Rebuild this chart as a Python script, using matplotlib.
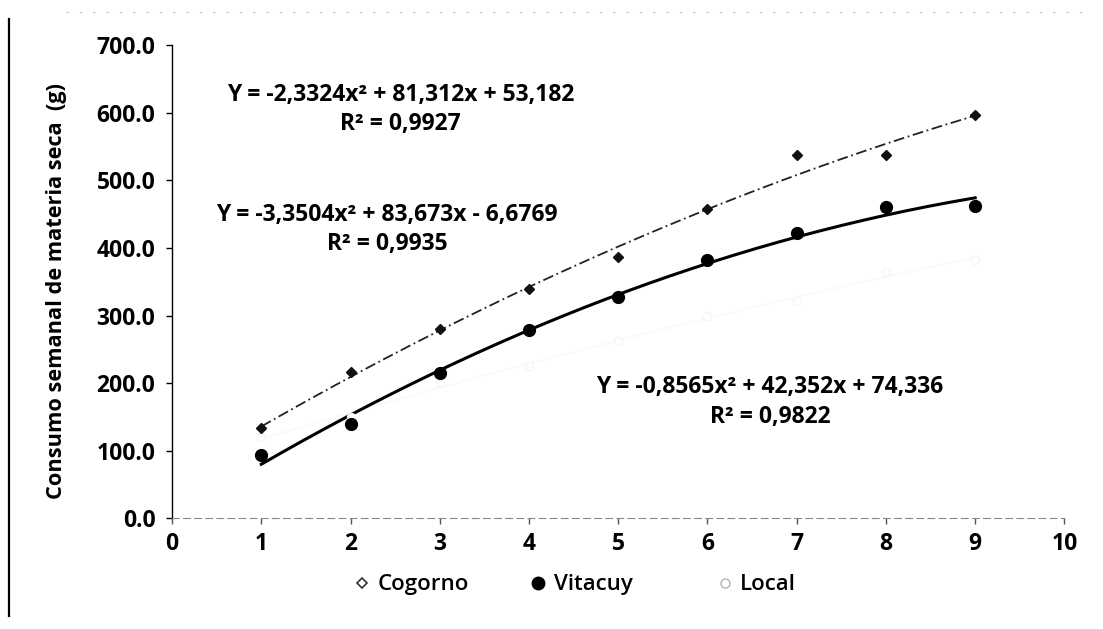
import numpy as np
import matplotlib
matplotlib.use("Agg")
import matplotlib.pyplot as plt
from matplotlib.lines import Line2D

plt.rcParams['font.family'] = ['Open Sans', 'DejaVu Sans']
plt.rcParams['font.weight'] = 'bold'

weeks = [1, 2, 3, 4, 5, 6, 7, 8, 9]
cogorno = [133, 216, 280, 340, 386, 457, 537, 537, 597]
vitacuy = [93, 139, 215, 278, 327, 382, 422, 460, 462]
local = [120, 150, 200, 225, 262, 300, 322, 365, 382]

eq_cogorno = "Y = -2,3324x\u00b2 + 81,312x + 53,182\nR\u00b2 = 0,9927"
eq_vitacuy = "Y = -3,3504x\u00b2 + 83,673x - 6,6769\nR\u00b2 = 0,9935"
eq_local = "Y = -0,8565x\u00b2 + 42,352x + 74,336\nR\u00b2 = 0,9822"

ylabel = "Consumo semanal de materia seca  (g)"
series_names = ['Cogorno', 'Vitacuy', 'Local']

fig = plt.figure(figsize=(11.03, 6.29), dpi=100)
ax = fig.add_axes([0.156, 0.176, 0.809, 0.752])

xs = np.linspace(1, 9, 200)

def fit(y):
    c = np.polyfit(weeks, y, 2)
    return np.polyval(c, xs)

# trendlines
ax.plot(xs, fit(local), color='#f8f8f8', lw=1.0, zorder=1)
ax.plot(xs, fit(cogorno), color='#222222', lw=1.3, ls=(0, (6, 2, 1, 2)), zorder=2)
ax.plot(xs, fit(vitacuy), color='black', lw=2.2, zorder=2)

# points
ax.plot(weeks, local, ls='none', marker='o', ms=6, mfc='white', mec='#f4f4f4', mew=0.8, zorder=3)
ax.plot(weeks, cogorno, ls='none', marker='D', ms=5.5, color='#111111', zorder=3)
ax.plot(weeks, vitacuy, ls='none', marker='o', ms=8.5, color='black', zorder=3)

ax.set_xlim(0, 10)
ax.set_ylim(0, 700)
ax.set_xticks(range(0, 11))
ax.set_yticks(np.arange(0, 701, 100))
ax.set_yticklabels([f"{v:.1f}" for v in np.arange(0, 701, 100)])
ax.tick_params(axis='both', labelsize=16.5, direction='out', length=4, width=1)
ax.tick_params(axis='x', pad=6, colors='#555555', labelcolor='black')
ax.tick_params(axis='y', pad=8)
for lab in ax.get_xticklabels() + ax.get_yticklabels():
    lab.set_fontweight('bold')

for s in ['top', 'right']:
    ax.spines[s].set_visible(False)
ax.spines['left'].set_color('black')
ax.spines['left'].set_linewidth(1.0)
ax.spines['bottom'].set_color('#888888')
ax.spines['bottom'].set_linestyle((0, (6, 4)))
ax.spines['bottom'].set_linewidth(0.8)

ax.set_ylabel(ylabel, fontsize=15.7, fontweight='bold')
ax.yaxis.set_label_coords(-0.118, 0.48)

kw = dict(ha='center', va='center', fontsize=16.5, fontweight='bold', linespacing=1.3)
ax.text(2.56, 605, eq_cogorno, **kw)
ax.text(2.41, 427, eq_vitacuy, **kw)
ax.text(6.70, 172, eq_local, **kw)

handles = [
    Line2D([], [], ls='none', marker='D', ms=5, mfc='white', mec='#333333', mew=1.2),
    Line2D([], [], ls='none', marker='o', ms=9, color='black'),
    Line2D([], [], ls='none', marker='o', ms=6.5, mfc='white', mec='#aaaaaa', mew=0.9),
]
xpos = [0.320, 0.480, 0.649]
for h, name, xp in zip(handles, series_names, xpos):
    fig.legend([h], [name], loc='center left', bbox_to_anchor=(xp, 0.070),
               frameon=False, handlelength=0.8, handletextpad=0.3,
               borderpad=0, borderaxespad=0,
               prop={'weight': 'semibold', 'size': 16})

# scan artefacts: left border and faint dotted top line
fig.add_artist(Line2D([0.008, 0.008], [0.02, 0.97], transform=fig.transFigure,
                      color='black', lw=1.6))
fig.add_artist(Line2D([0.06, 0.99], [0.981, 0.981], transform=fig.transFigure,
                      color='#bbbbbb', lw=0.8, ls=(0, (2, 10))))

fig.savefig("out.png", dpi=100, facecolor='white')
